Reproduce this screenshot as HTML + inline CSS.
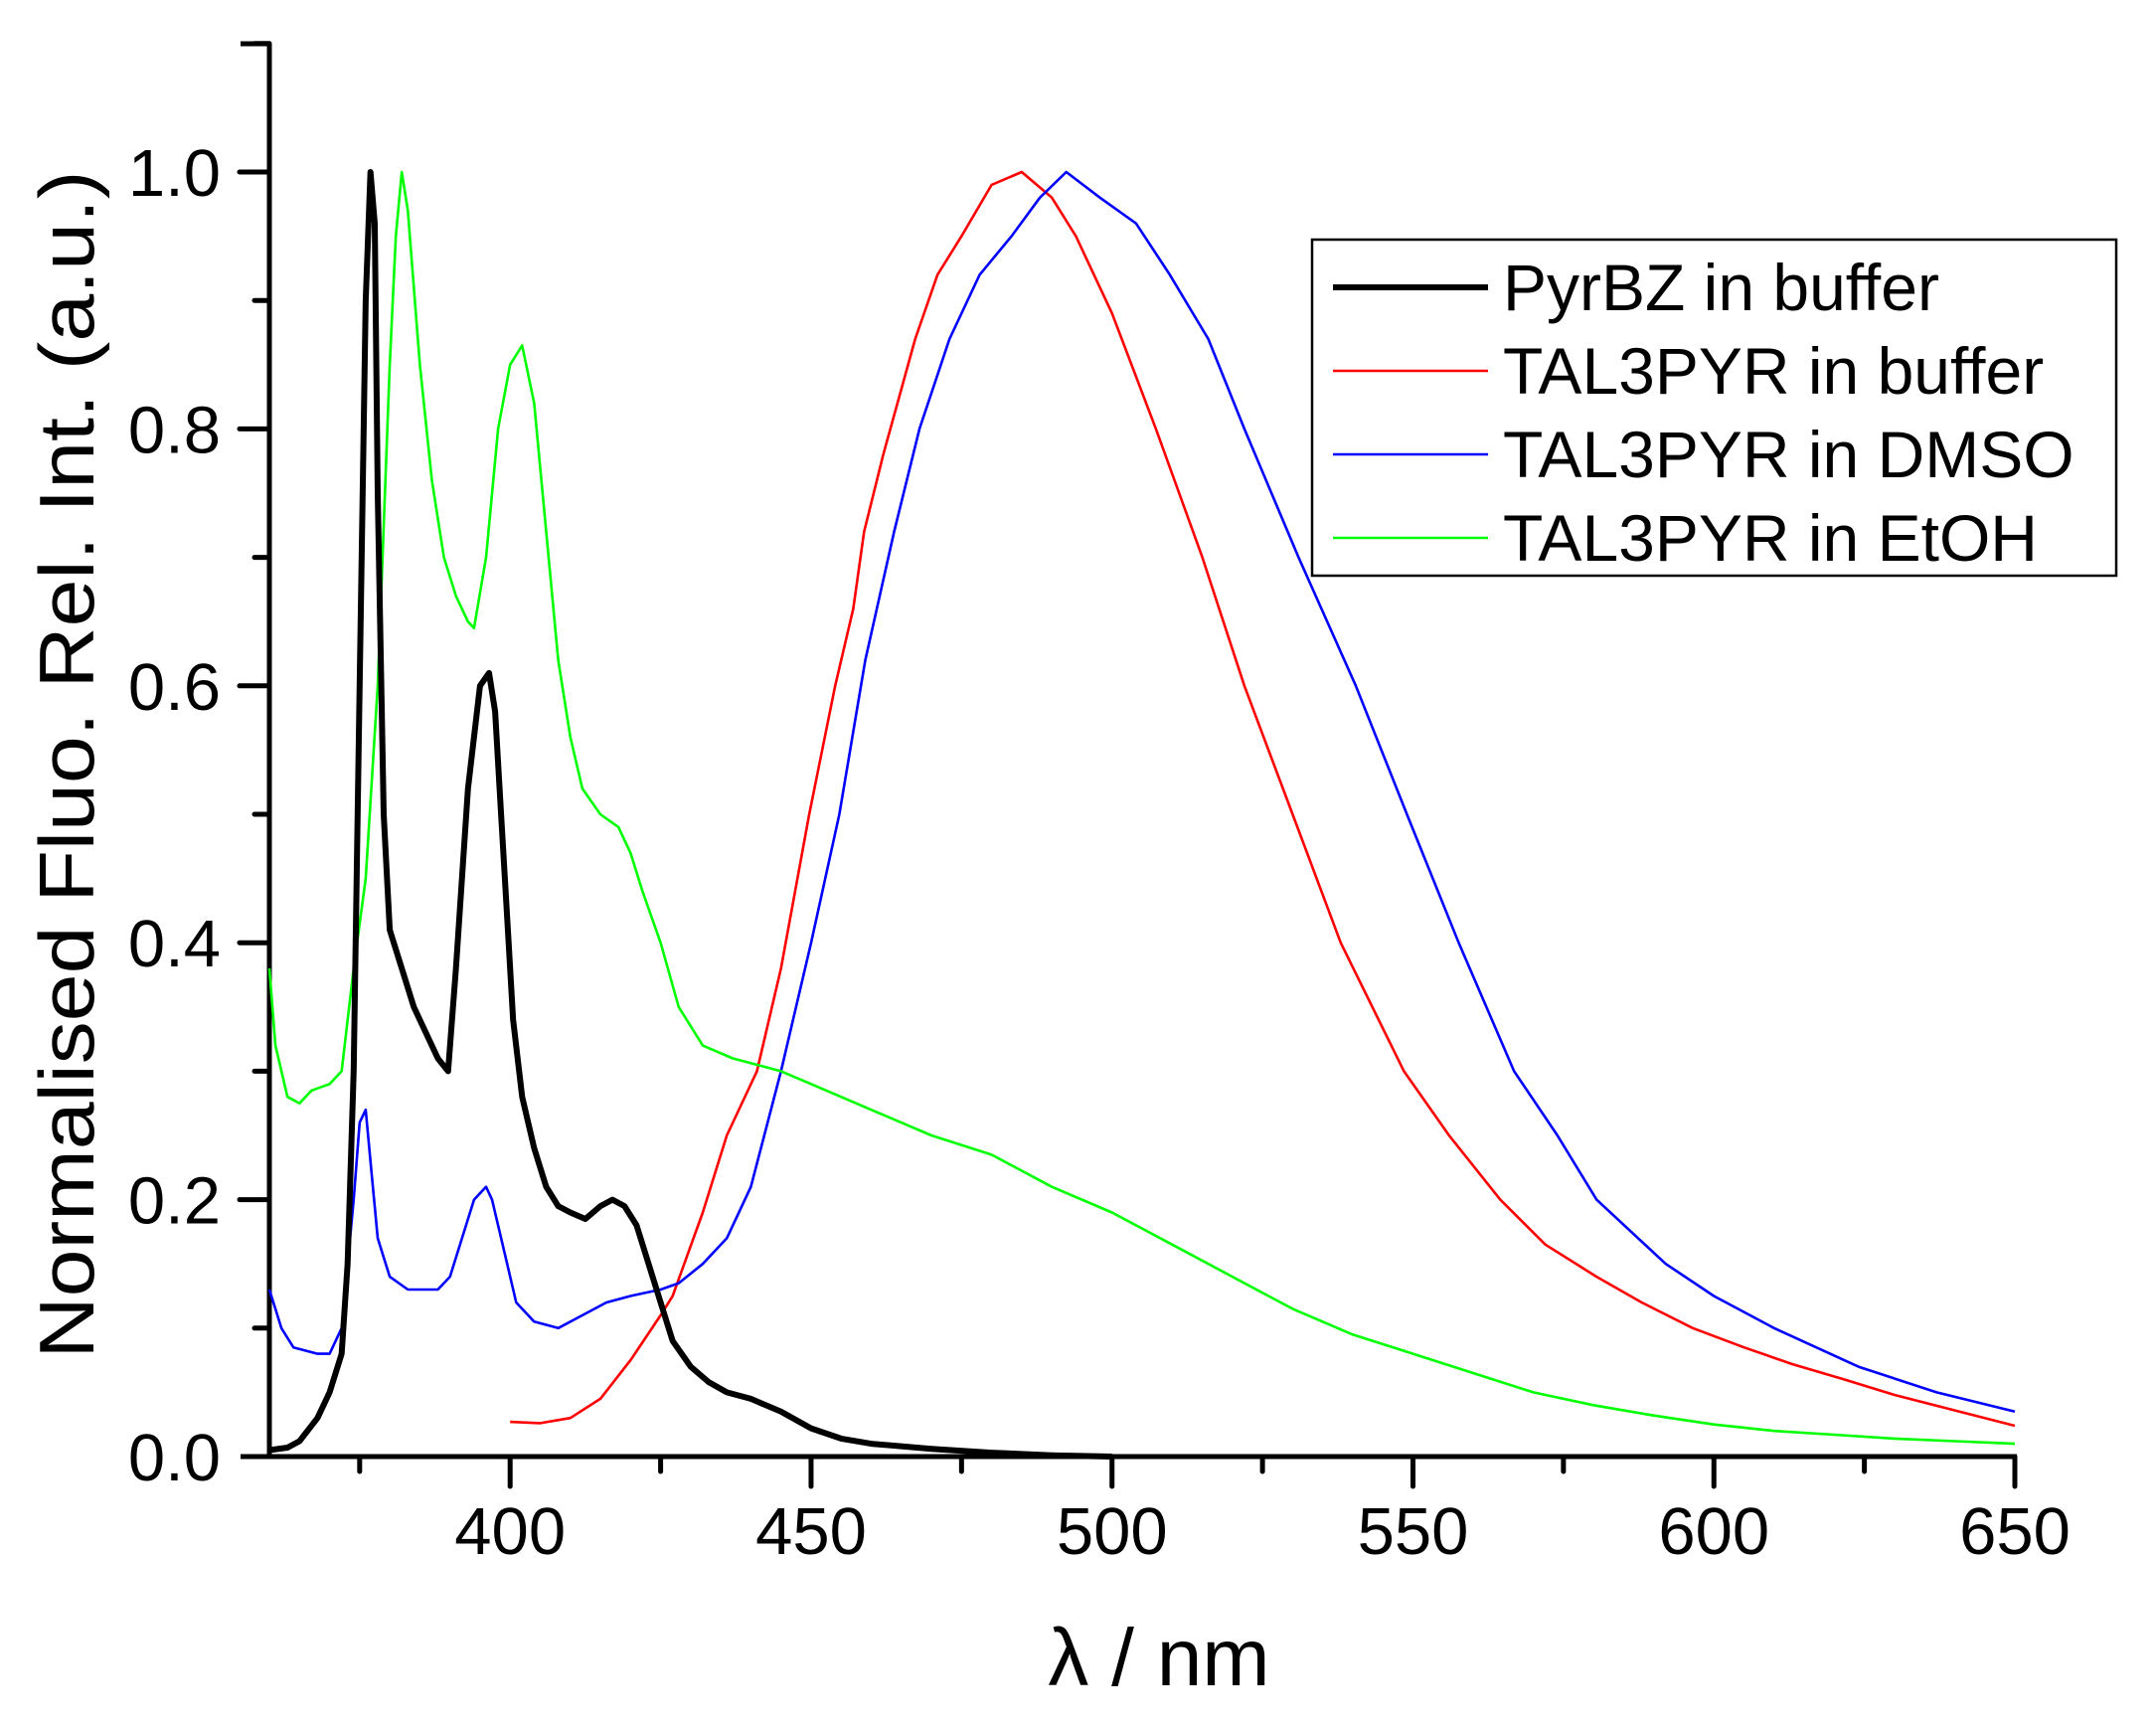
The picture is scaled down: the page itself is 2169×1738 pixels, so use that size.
<!DOCTYPE html>
<html><head><meta charset="utf-8"><style>
html,body{margin:0;padding:0;background:#fff;}
svg{display:block;font-family:"Liberation Sans",Arial,sans-serif;}
</style></head><body>
<svg id="chart" width="2169" height="1738" viewBox="0 0 2169 1738" xmlns="http://www.w3.org/2000/svg">
<g id="axes"></g>
<g id="series"></g>
<g id="legend"></g>
</svg>
<script>
const xTicks = [400, 450, 500, 550, 600, 650];
const yTicks = [0.0, 0.2, 0.4, 0.6, 0.8, 1.0];
const yTickLabels = ["0.0", "0.2", "0.4", "0.6", "0.8", "1.0"];
const seriesNames = ["PyrBZ in buffer", "TAL3PYR in buffer", "TAL3PYR in DMSO", "TAL3PYR in EtOH"];
const pyrX = [360,363,365,368,370,372,373,374,375,376,376.8,377.5,378,379,380,382,384,386,388,389.7,391,393,395,396.5,397.5,398.5,399.5,400.5,402,404,406,408,410,412.5,415,417,419,421,423,425,427,430,433,436,440,445,450,455,460,470,480,490,500];
const pyrY = [0.005,0.007,0.012,0.03,0.05,0.08,0.15,0.3,0.6,0.9,1.0,0.96,0.75,0.5,0.41,0.38,0.35,0.33,0.31,0.3,0.38,0.52,0.6,0.61,0.58,0.5,0.42,0.34,0.28,0.24,0.21,0.195,0.19,0.185,0.195,0.2,0.195,0.18,0.15,0.12,0.09,0.07,0.058,0.05,0.045,0.035,0.022,0.014,0.01,0.006,0.003,0.001,0.0];
const redX = [400,405,410,415,420,425,427,432,436,441,445,449.7,454,457,458.8,462,467.3,471,475,480,485,490,494,500,507.3,515,522,530,538,548.5,556,564.5,572,580.5,588,596.5,605,613,621.7,630,640,650];
const redY = [0.027,0.026,0.03,0.045,0.075,0.11,0.125,0.19,0.25,0.3,0.38,0.5,0.6,0.66,0.72,0.78,0.87,0.92,0.95,0.99,1.0,0.98,0.95,0.89,0.8,0.7,0.6,0.5,0.4,0.3,0.25,0.2,0.165,0.14,0.12,0.1,0.085,0.072,0.06,0.048,0.036,0.024];
const blueX = [360,362,364,368,370,372,374,375,376,377,378,380,383,386,388,390,392,394,396,397,399,401,404,408,412,416,420,425,428,432,436,440,445,450,454.7,459,463.8,468,473,478,483.3,488,492.4,498,504,509.6,516,522,531,540.5,549,557.6,566.8,574,580.5,592,600,610,617,624,637,650];
const blueY = [0.13,0.1,0.085,0.08,0.08,0.1,0.2,0.26,0.27,0.22,0.17,0.14,0.13,0.13,0.13,0.14,0.17,0.2,0.21,0.2,0.16,0.12,0.105,0.1,0.11,0.12,0.125,0.13,0.135,0.15,0.17,0.21,0.3,0.4,0.5,0.62,0.72,0.8,0.87,0.92,0.95,0.98,1.0,0.98,0.96,0.92,0.87,0.8,0.7,0.6,0.5,0.4,0.3,0.25,0.2,0.15,0.125,0.1,0.085,0.07,0.05,0.035];
const greenX = [360,361,363,365,367,370,372,374,376,378,380,381,382,383,385,387,389,391,393,394,396,398,400,402,404,406,408,410,412,415,418,420,422,425,428,432,437,441,445,450,460,470,480,490,500,510,520,530,540,550,560,570,580,590,600,610,620,630,640,650];
const greenY = [0.38,0.32,0.28,0.275,0.285,0.29,0.3,0.38,0.45,0.6,0.85,0.95,1.0,0.97,0.85,0.76,0.7,0.67,0.65,0.645,0.7,0.8,0.85,0.865,0.82,0.72,0.62,0.56,0.52,0.5,0.49,0.47,0.44,0.4,0.35,0.32,0.31,0.305,0.3,0.29,0.27,0.25,0.235,0.21,0.19,0.165,0.14,0.115,0.095,0.08,0.065,0.05,0.04,0.032,0.025,0.02,0.017,0.014,0.012,0.01];

const X0 = 271, X1 = 2027, XMIN = 360, XMAX = 650;
const Y0 = 1465, Y1 = 173;
function xs(v){ return X0 + (v - XMIN) / (XMAX - XMIN) * (X1 - X0); }
function ys(v){ return Y0 - v * (Y0 - Y1); }
const NS = "http://www.w3.org/2000/svg";
function mk(tag, attrs, parent){ const e = document.createElementNS(NS, tag); for (const k in attrs) e.setAttribute(k, attrs[k]); parent.appendChild(e); return e; }

const axes = document.getElementById('axes');
let e;
e = mk('line', {x1:X0, y1:44, x2:X0, y2:Y0+2, stroke:'#000','stroke-width':5}, axes);


e = mk('line', {x1:242, y1:Y0, x2:X1+2, y2:Y0, stroke:'#000','stroke-width':5}, axes);


mk('line', {x1:242, y1:44, x2:X0, y2:44, stroke:'#000','stroke-width':5}, axes);
for (let v = 375; v <= 650; v += 25) {
  const major = (v % 50 === 0);
  e = mk('line', {x1:xs(v), y1:Y0, x2:xs(v), y2:Y0 + (major ? 30 : 15), stroke:'#000','stroke-width':5,'stroke-linecap':'round'}, axes);
  
  
}
xTicks.forEach(v => {
  e = mk('text', {x:xs(v), y:1563, 'font-size':67, 'text-anchor':'middle'}, axes);
  e.textContent = v;
  
  
});
for (let i = 1; i <= 11; i++) {
  const v = i / 10;
  const major = (i % 2 === 0);
  e = mk('line', {x1:X0, y1:ys(v), x2:X0 - (major ? 30 : 15), y2:ys(v), stroke:'#000','stroke-width':5,'stroke-linecap':'round'}, axes);
  
  
}
yTicks.forEach((v, i) => {
  e = mk('text', {x:222, y:ys(v) + 24, 'font-size':67, 'text-anchor':'end'}, axes);
  e.textContent = yTickLabels[i];
  
  
});
e = mk('text', {x:0, y:0, 'font-size':78, 'text-anchor':'middle', transform:'translate(94,769) rotate(-90)', textLength:1195, lengthAdjust:'spacingAndGlyphs'}, axes);
e.textContent = 'Normalised Fluo. Rel. Int. (a.u.)';


e = mk('text', {x:1166, y:1695, 'font-size':82, 'text-anchor':'middle'}, axes);
e.textContent = 'λ / nm';



const series = document.getElementById('series');
const defs = [
  {x:redX, y:redY, c:'#ff0000', w:2.6, n:'series-tal3pyr-buffer'},
  {x:blueX, y:blueY, c:'#0000ff', w:2.6, n:'series-tal3pyr-dmso'},
  {x:greenX, y:greenY, c:'#00ff00', w:2.6, n:'series-tal3pyr-etoh'},
  {x:pyrX, y:pyrY, c:'#000000', w:6, n:'series-pyrbz-buffer'}
];
defs.forEach(d => {
  const pts = d.x.map((xv, i) => xs(xv).toFixed(1) + ',' + ys(d.y[i]).toFixed(1)).join(' ');
  const p = mk('polyline', {points:pts, fill:'none', stroke:d.c, 'stroke-width':d.w, 'stroke-linejoin':'round'}, series);
  
  
});

const legend = document.getElementById('legend');
e = mk('rect', {x:1320, y:241, width:809, height:338, fill:'#fff', stroke:'#000', 'stroke-width':2.5}, legend);


const legColors = ['#000000', '#ff0000', '#0000ff', '#00ff00'];
const legWidths = [6, 2.6, 2.6, 2.6];
seriesNames.forEach((name, i) => {
  const cy = 289 + i * 84;
  const g = mk('g', {}, legend);
  
  
  mk('line', {x1:1341, y1:cy, x2:1497, y2:cy, stroke:legColors[i], 'stroke-width':legWidths[i]}, g);
  const t = mk('text', {x:1512, y:cy + 23, 'font-size':66}, g);
  t.textContent = name;
});
</script>
</body></html>
